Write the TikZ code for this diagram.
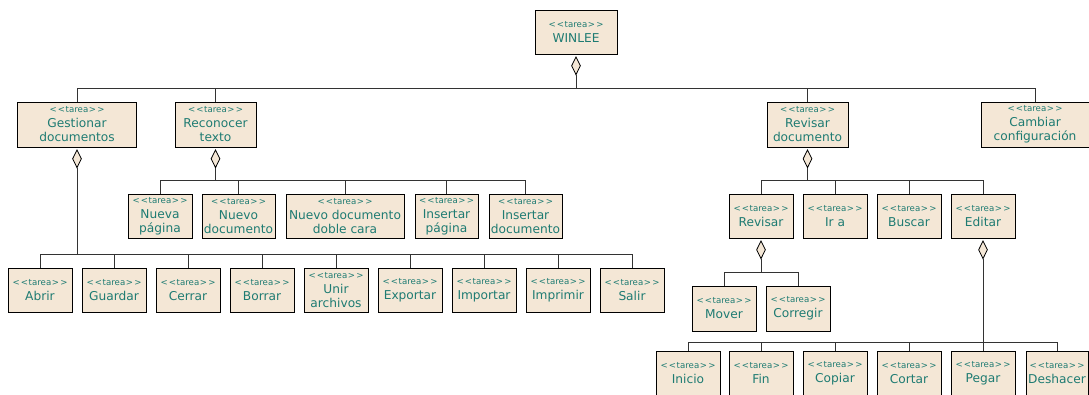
\documentclass[tikz,border=0pt]{standalone}
\usepackage{fontspec}
\setmainfont{DejaVu Sans}
\usetikzlibrary{shapes.geometric}

\definecolor{tareafill}{HTML}{F4E7D6}
\definecolor{tareatext}{HTML}{1E7B72}

\newcommand{\tarea}[1]{{\fontsize{8.6}{9}\selectfont <\kern1.2pt<\kern0.6pt tarea\kern0.6pt>\kern1.2pt>}\\[1pt]#1}

\tikzset{
	tarea/.style={draw, fill=tareafill, text=tareatext, align=center, minimum width=64pt, minimum height=44pt, inner xsep=1pt, inner ysep=1pt, font=\fontsize{12.2}{14}\selectfont, line width=0.8pt},
	agreg/.style={draw, diamond, fill=tareafill, minimum width=9pt, minimum height=18pt, inner sep=0pt, anchor=north, yshift=-2pt, line width=0.8pt},
	bus/.style={draw=black!80, line width=1pt}
}

\begin{document}
\begin{tikzpicture}[x=1pt, y=-1pt]
	\useasboundingbox (0,0) rectangle (1089,394);

	\node[tarea, minimum width=82pt] (win) at (576,32) {\tarea{WINLEE}};

	\node[tarea, minimum width=119pt, minimum height=45pt] (gest) at (77,124.5) {\tarea{Gestionar\\documentos}};
	\node[tarea, minimum width=81pt, minimum height=45pt] (reco) at (215.5,124.5) {\tarea{Reconocer\\texto}};
	\node[tarea, minimum width=81pt, minimum height=45pt] (revd) at (807.5,124.5) {\tarea{Revisar\\documento}};
	\node[tarea, minimum width=108pt, minimum height=45pt] (camb) at (1035,124.5) {\tarea{Cambiar\\configuración}};

	\node[tarea] (nuep) at (160,216) {\tarea{Nueva\\página}};
	\node[tarea, minimum width=73pt] (nued) at (238.5,216) {\tarea{Nuevo\\documento}};
	\node[tarea, minimum width=118pt] (nuedc) at (345,216) {\tarea{Nuevo documento\\doble cara}};
	\node[tarea, minimum width=63pt] (insp) at (446.5,216) {\tarea{Insertar\\página}};
	\node[tarea, minimum width=73pt] (insd) at (525.5,216) {\tarea{Insertar\\documento}};

	\node[tarea] (abrir) at (40,290) {\tarea{Abrir}};
	\node[tarea] (guar) at (114,290) {\tarea{Guardar}};
	\node[tarea] (cerr) at (188,290) {\tarea{Cerrar}};
	\node[tarea] (borr) at (262,290) {\tarea{Borrar}};
	\node[tarea] (unir) at (336,290) {\tarea{Unir\\archivos}};
	\node[tarea] (expo) at (410,290) {\tarea{Exportar}};
	\node[tarea] (impo) at (484,290) {\tarea{Importar}};
	\node[tarea] (impr) at (558,290) {\tarea{Imprimir}};
	\node[tarea] (salir) at (632,290) {\tarea{Salir}};

	\node[tarea] (revi) at (761,216) {\tarea{Revisar}};
	\node[tarea] (ira) at (835,216) {\tarea{Ir a}};
	\node[tarea] (busc) at (909,216) {\tarea{Buscar}};
	\node[tarea] (edit) at (983,216) {\tarea{Editar}};

	\node[tarea, minimum height=45pt] (mover) at (724,308.5) {\tarea{Mover}};
	\node[tarea, minimum height=45pt] (corr) at (798,308.5) {\tarea{Corregir}};

	\node[tarea] (inic) at (688,373) {\tarea{Inicio}};
	\node[tarea] (fin) at (761,373) {\tarea{Fin}};
	\node[tarea] (copi) at (835,373) {\tarea{Copiar}};
	\node[tarea] (cort) at (909,373) {\tarea{Cortar}};
	\node[tarea] (pega) at (983,373) {\tarea{Pegar}};
	\node[tarea, minimum width=62pt] (desh) at (1057,373) {\tarea{Deshacer}};

	\node[agreg] (dwin) at (win.south) {};
	\node[agreg] (dgest) at (gest.south) {};
	\node[agreg] (dreco) at (reco.south) {};
	\node[agreg] (drevd) at (revd.south) {};
	\node[agreg] (drevi) at (revi.south) {};
	\node[agreg] (dedit) at (edit.south) {};

	\coordinate (bwin) at (576,88);
	\coordinate (bgest) at (77,254);
	\coordinate (breco) at (215.5,180);
	\coordinate (brevd) at (807.5,180);
	\coordinate (brevi) at (761,272);
	\coordinate (bedit) at (983,342);

	\draw[bus] (dwin.south) -- (bwin);
	\foreach \n in {gest,reco,revd,camb}
		\draw[bus] (\n.north) |- (bwin);

	\draw[bus] (dgest.south) -- (bgest);
	\foreach \n in {abrir,guar,cerr,borr,unir,expo,impo,impr,salir}
		\draw[bus] (\n.north) |- (bgest);

	\draw[bus] (dreco.south) -- (breco);
	\foreach \n in {nuep,nued,nuedc,insp,insd}
		\draw[bus] (\n.north) |- (breco);

	\draw[bus] (drevd.south) -- (brevd);
	\foreach \n in {revi,ira,busc,edit}
		\draw[bus] (\n.north) |- (brevd);

	\draw[bus] (drevi.south) -- (brevi);
	\foreach \n in {mover,corr}
		\draw[bus] (\n.north) |- (brevi);

	\draw[bus] (dedit.south) -- (bedit);
	\foreach \n in {inic,fin,copi,cort,pega,desh}
		\draw[bus] (\n.north) |- (bedit);
\end{tikzpicture}
\end{document}
